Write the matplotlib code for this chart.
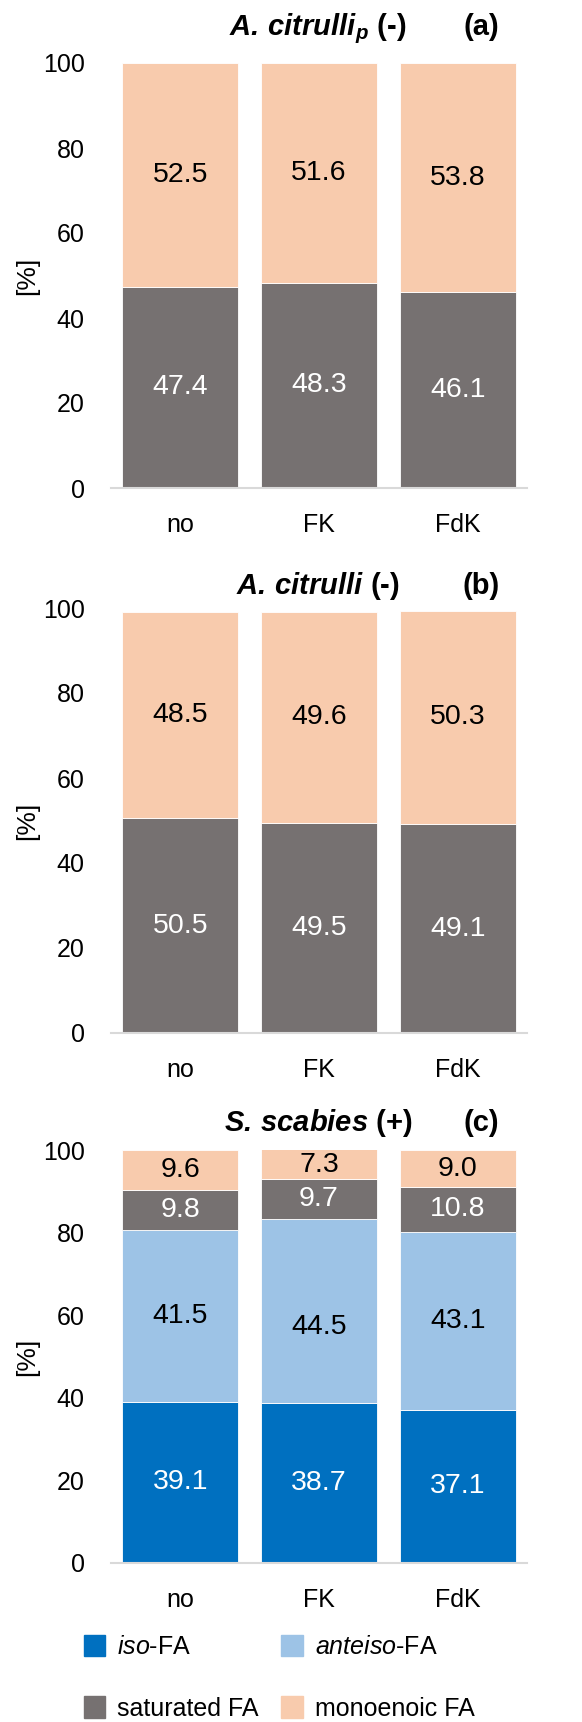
import matplotlib
matplotlib.use("Agg")
import matplotlib.pyplot as plt
from matplotlib.patches import Patch
import numpy as np

plt.rcParams['font.family'] = ['Liberation Sans', 'DejaVu Sans']
plt.rcParams['mathtext.fontset'] = 'custom'
plt.rcParams['mathtext.rm'] = 'Liberation Sans'
plt.rcParams['mathtext.it'] = 'Liberation Sans:italic'
plt.rcParams['mathtext.bf'] = 'Liberation Sans:bold'
plt.rcParams['mathtext.bfit'] = 'Liberation Sans:bold:italic'

categories = ['no', 'FK', 'FdK']

# panel (a) A. citrulli_p
a_saturated = [47.4, 48.3, 46.1]
a_monoenoic = [52.5, 51.6, 53.8]

# panel (b) A. citrulli
b_saturated = [50.5, 49.5, 49.1]
b_monoenoic = [48.5, 49.6, 50.3]

# panel (c) S. scabies
c_iso = [39.1, 38.7, 37.1]
c_anteiso = [41.5, 44.5, 43.1]
c_saturated = [9.8, 9.7, 10.8]
c_monoenoic = [9.6, 7.3, 9.0]

yticks = [0, 20, 40, 60, 80, 100]

COL_ISO = '#0070C0'
COL_ANTEISO = '#9DC3E6'
COL_SAT = '#767171'
COL_MONO = '#F8CBAD'

W, H = 582, 1722
fig = plt.figure(figsize=(W / 100, H / 100), dpi=100)


def make_axes(y100, y0):
    return fig.add_axes([111 / W, 1 - y0 / H, 416 / W, (y0 - y100) / H])


def stack(ax, series):
    x = np.arange(len(categories))
    bottom = np.zeros(len(categories))
    all_labels = []
    for vals, color, tcol in series:
        bars = ax.bar(x, vals, width=0.835, bottom=bottom, color=color,
                      edgecolor='white', linewidth=0.6)
        labels = ax.bar_label(bars, labels=[f'{v:.1f}' for v in vals],
                              label_type='center', color=tcol, fontsize=20.5)
        all_labels.append(labels)
        bottom = bottom + np.array(vals)
    ax.set_xlim(-0.5, 2.5)
    ax.set_ylim(0, 100)
    ax.set_yticks(yticks)
    ax.set_xticks(x)
    ax.set_xticklabels(categories)
    ax.tick_params(axis='both', length=0, labelsize=18)
    ax.tick_params(axis='y', pad=19)
    ax.tick_params(axis='x', pad=18)
    for s in ['top', 'right', 'left']:
        ax.spines[s].set_visible(False)
    ax.spines['bottom'].set_color('#D9D9D9')
    ax.spines['bottom'].set_linewidth(1.5)
    return all_labels


def titles(species, letter, baseline_px, y100, y0):
    fig.text(318 / W, 1 - baseline_px / H, species, ha='center', va='baseline',
             fontsize=21, fontweight='bold')
    fig.text(481 / W, 1 - baseline_px / H, letter, ha='center', va='baseline',
             fontsize=21, fontweight='bold')
    fig.text(27 / W, 1 - (y100 + y0) / 2 / H, '[%]', rotation=90,
             ha='center', va='center', fontsize=19)


ax_a = make_axes(63, 488)
stack(ax_a, [(a_saturated, COL_SAT, 'white'), (a_monoenoic, COL_MONO, 'black')])
titles(r'$\mathbfit{A.\,citrulli_p}$ (-)', '(a)', 35, 63, 488)

ax_b = make_axes(608, 1033)
stack(ax_b, [(b_saturated, COL_SAT, 'white'), (b_monoenoic, COL_MONO, 'black')])
titles(r'$\mathbfit{A.\,citrulli}$ (-)', '(b)', 594, 608, 1033)

ax_c = make_axes(1150, 1563)
c_labels = stack(ax_c, [(c_iso, COL_ISO, 'white'), (c_anteiso, COL_ANTEISO, 'black'),
                        (c_saturated, COL_SAT, 'white'), (c_monoenoic, COL_MONO, 'black')])
# the 44.5 label sits a little lower in the original
c_labels[1][1].xyann = (0, -11)
titles(r'$\mathbfit{S.\,scabies}$ (+)', '(c)', 1131, 1150, 1563)

handles = [Patch(color=COL_ISO), Patch(color=COL_SAT),
           Patch(color=COL_ANTEISO), Patch(color=COL_MONO)]
labels = [r'$\mathit{iso}$-FA', 'saturated FA',
          r'$\mathit{anteiso}$-FA', 'monoenoic FA']
fig.legend(handles, labels, ncol=2, loc='upper left',
           bbox_to_anchor=(66 / W, 1 - 1617 / H), frameon=False, fontsize=18,
           handlelength=0.85, handleheight=0.95, handletextpad=0.5,
           columnspacing=0.9, labelspacing=1.5, borderpad=0.2)

fig.savefig('out.png', dpi=100)
